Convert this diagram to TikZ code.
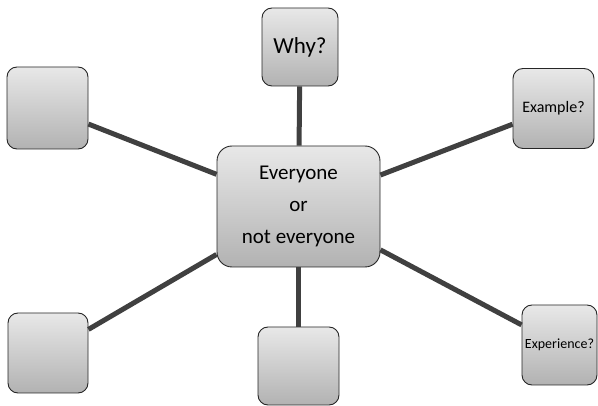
\documentclass[tikz,border=0pt]{standalone}
\usepackage{fontspec}
\setmainfont{Carlito}
\usetikzlibrary{positioning}
\definecolor{linegray}{HTML}{404040}
\definecolor{boxtop}{HTML}{E8E8E8}
\definecolor{boxbottom}{HTML}{B2B2B2}
\begin{document}
\begin{tikzpicture}[x=1pt,y=-1pt]
  \tikzstyle{every node}=[font=\normalsize]
  \tikzstyle{box}=[rectangle, rounded corners=10pt, draw=black!85, line width=0.9pt,
                   top color=boxtop, bottom color=boxbottom, align=center, inner sep=0pt]
  \tikzstyle{spoke}=[line width=5pt, draw=linegray]
  \useasboundingbox (0,0) rectangle (598,406);

  % Main box
  \node (hub) [box, rounded corners=15pt, minimum width=163pt, minimum height=121pt,
               font=\fontsize{21}{32}\selectfont] at (298.5,206.5)
               {Everyone\\ or\\ not everyone};

  % Outer boxes
  \node (why) [box, minimum width=76pt, minimum height=78pt,
               font=\fontsize{23}{26}\selectfont] at (300,47) {Why?};
  \node (example) [box, minimum width=81pt, minimum height=80pt,
               font=\fontsize{16}{18}\selectfont] at (553.5,108.5) {Example?};
  \node (experience) [box, minimum width=75pt, minimum height=80pt,
               font=\fontsize{14}{16}\selectfont] at (559.5,345) {Experience?};
  \node (blankA) [box, minimum width=81pt, minimum height=82pt] at (47.5,108) {};
  \node (blankB) [box, minimum width=80pt, minimum height=80pt] at (48,353) {};
  \node (blankC) [box, minimum width=81pt, minimum height=78pt] at (298.5,366) {};

  % Spokes
  \draw[spoke] (hub) -- (why);
  \draw[spoke] (hub) -- (example);
  \draw[spoke] (hub) -- (experience);
  \draw[spoke] (hub) -- (blankA);
  \draw[spoke] (hub) -- (blankB);
  \draw[spoke] (hub) -- (blankC);
\end{tikzpicture}
\end{document}
